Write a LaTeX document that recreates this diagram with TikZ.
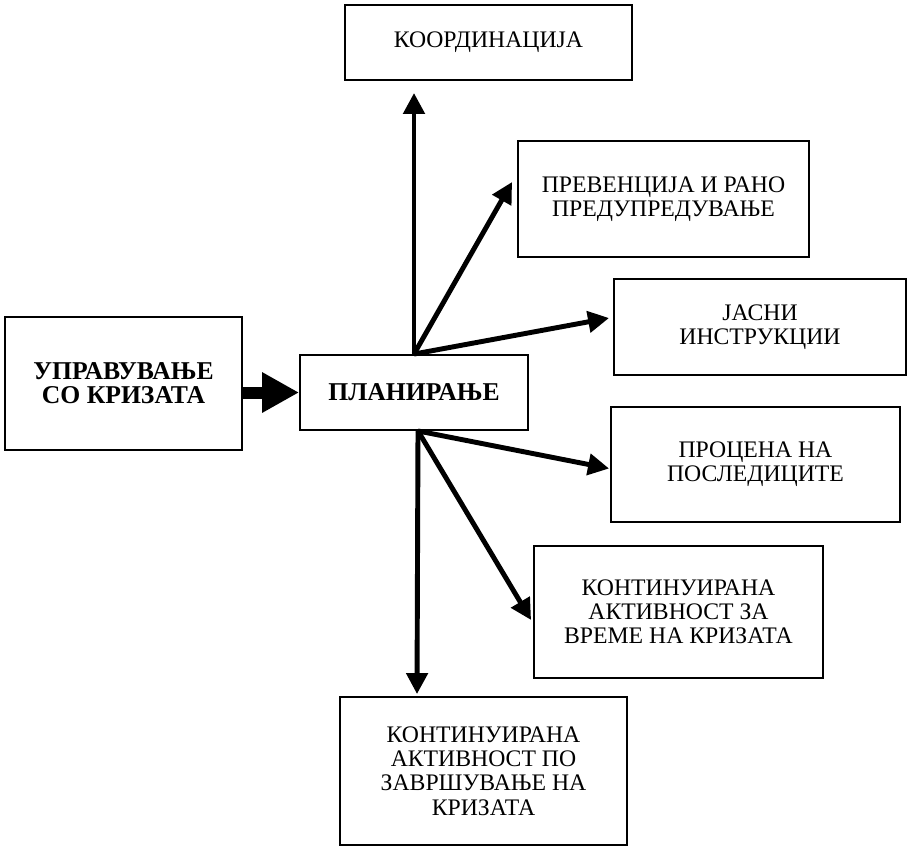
\documentclass[tikz,border=0pt]{standalone}
\usepackage{fontspec}
\setmainfont{Liberation Serif}
\usetikzlibrary{arrows.meta}

\begin{document}
\begin{tikzpicture}[x=0.02cm,y=-0.02cm]
\tikzstyle{box}=[rectangle,draw=black,line width=1.1pt,inner sep=0pt,
align=center,font=\fontsize{13.5}{13.8}\selectfont]
\tikzstyle{boldbox}=[box,font=\fontsize{14.6}{13.8}\selectfont\bfseries]
\tikzstyle{link}=[line width=2.8pt,-{Triangle[length=0.42cm,width=0.42cm]}]
\tikzstyle{biglink}=[line width=0.24cm,-{Triangle[length=0.74cm,width=0.76cm]}]
\useasboundingbox (0,0) rectangle (910,846);
% boxes
\node[boldbox,minimum width=4.74cm,minimum height=2.66cm] (upravuvanje) at (123.5,383.5) {УПРАВУВАЊЕ\\СО КРИЗАТА};
\node[boldbox,minimum width=4.56cm,minimum height=1.5cm] (planiranje) at (414,392.5) {ПЛАНИРАЊЕ};
\node[box,minimum width=5.74cm,minimum height=1.5cm] (koordinacija) at (488.5,42.5) {КООРДИНАЦИЈА};
\node[box,minimum width=5.82cm,minimum height=2.32cm] (prevencija) at (663.5,199) {ПРЕВЕНЦИЈА И РАНО\\ПРЕДУПРЕДУВАЊЕ};
\node[box,minimum width=5.84cm,minimum height=1.92cm] (instrukcii) at (760,327) {ЈАСНИ\\ИНСТРУКЦИИ};
\node[box,minimum width=5.78cm,minimum height=2.3cm] (procena) at (755.5,464.5) {ПРОЦЕНА НА\\ПОСЛЕДИЦИТЕ};
\node[box,minimum width=5.78cm,minimum height=2.64cm] (vreme) at (678.5,612) {КОНТИНУИРАНА\\АКТИВНОСТ ЗА\\ВРЕМЕ НА КРИЗАТА};
\node[box,minimum width=5.74cm,minimum height=2.96cm] (zavrsuvanje) at (483.5,771) {КОНТИНУИРАНА\\АКТИВНОСТ ПО\\ЗАВРШУВАЊЕ НА\\КРИЗАТА};
% arrows
\draw[biglink] (upravuvanje.east |- planiranje.west) -- (planiranje.west);
\draw (planiranje.north)
edge[link] ([shift={(0,12)}]planiranje.north |- koordinacija.south)
edge[link] ([shift={(-5,-17)}]prevencija.west)
edge[link] ([shift={(-4,-9)}]instrukcii.west);
\draw ([shift={(4,0)}]planiranje.south)
edge[link] ([shift={(-1,4)}]procena.west)
edge[link] ([shift={(-2,8)}]vreme.west)
edge[link] ([shift={(3,-2)}]planiranje.south |- zavrsuvanje.north);
\end{tikzpicture}
\end{document}
